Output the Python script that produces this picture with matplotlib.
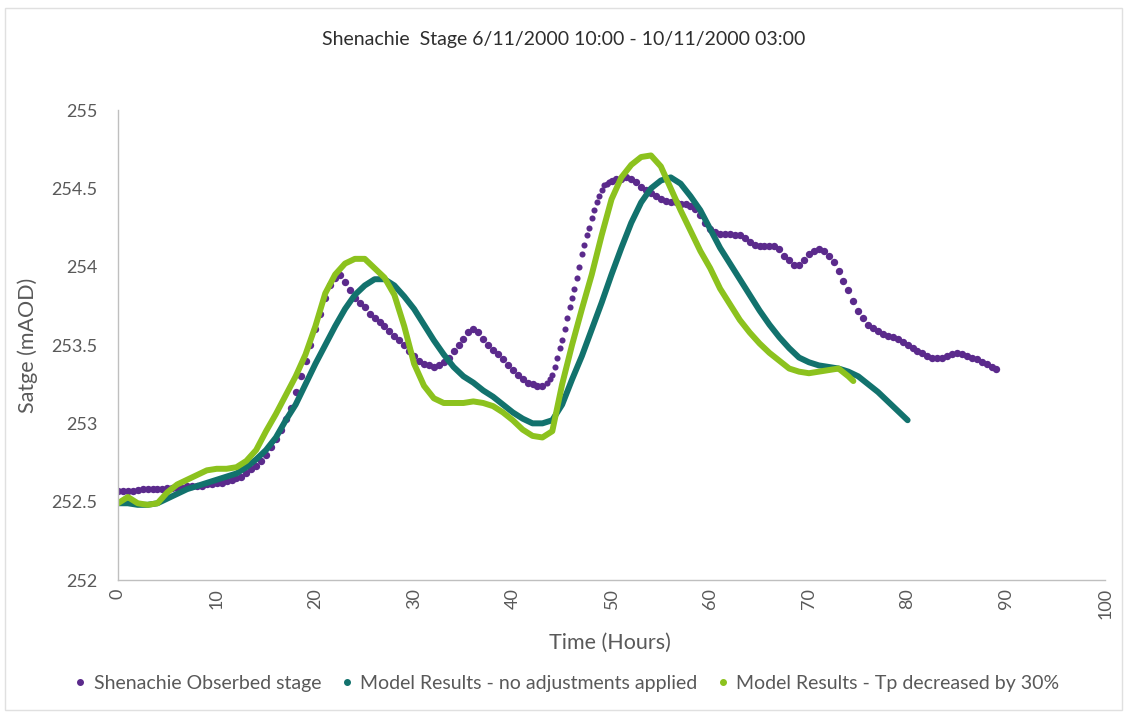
import numpy as np
import matplotlib
matplotlib.use("Agg")
import matplotlib.pyplot as plt
from matplotlib.lines import Line2D
from matplotlib.patches import Rectangle

plt.rcParams['font.family'] = ['Lato', 'DejaVu Sans']

title = "Shenachie  Stage 6/11/2000 10:00 - 10/11/2000 03:00"
xlabel = "Time (Hours)"
ylabel = "Satge (mAOD)"
labels = ["Shenachie Obserbed stage",
          "Model Results - no adjustments applied",
          "Model Results - Tp decreased by 30%"]

# Observed stage (sampling grid: 0.5 h, 0.25 h during steep rise)
obs_hours1 = np.arange(0, 43.01, 0.5)
obs_hours2 = np.arange(43.5, 49.76, 0.25)
obs_hours3 = np.arange(50, 89.01, 0.5)
obs_seg1 = [252.57, 252.57, 252.57, 252.57, 252.575, 252.58, 252.58, 252.58, 252.58, 252.58,
            252.59, 252.59, 252.59, 252.59, 252.60, 252.60, 252.60, 252.60, 252.61, 252.61,
            252.62, 252.62, 252.63, 252.64, 252.65, 252.66, 252.68, 252.71, 252.73, 252.76,
            252.80, 252.85, 252.90, 252.96, 253.03, 253.10, 253.20, 253.30, 253.40, 253.50,
            253.60, 253.70, 253.80, 253.88, 253.93, 253.95, 253.90, 253.85, 253.80, 253.77,
            253.74, 253.70, 253.67, 253.65, 253.62, 253.59, 253.56, 253.53, 253.50, 253.46,
            253.43, 253.40, 253.38, 253.37, 253.36, 253.37, 253.39, 253.42, 253.46, 253.50,
            253.54, 253.58, 253.60, 253.58, 253.54, 253.50, 253.47, 253.44, 253.41, 253.37,
            253.34, 253.31, 253.28, 253.26, 253.25, 253.24, 253.24]
obs_seg2 = [253.26, 253.28, 253.31, 253.36, 253.42, 253.48, 253.53, 253.60, 253.67, 253.74,
            253.80, 253.86, 253.93, 254.00, 254.08, 254.14, 254.20, 254.25, 254.31, 254.36,
            254.41, 254.45, 254.49, 254.52, 254.53, 254.54]
obs_seg3 = [254.55, 254.56, 254.56, 254.57, 254.56, 254.54, 254.51, 254.49, 254.47, 254.45,
            254.43, 254.42, 254.41, 254.41, 254.40, 254.40, 254.39, 254.37, 254.33, 254.28,
            254.24, 254.22, 254.21, 254.21, 254.21, 254.20, 254.20, 254.18, 254.16, 254.14,
            254.13, 254.13, 254.13, 254.13, 254.11, 254.07, 254.04, 254.01, 254.01, 254.04,
            254.08, 254.10, 254.11, 254.10, 254.07, 254.03, 253.97, 253.91, 253.85, 253.78,
            253.72, 253.67, 253.63, 253.61, 253.59, 253.57, 253.56, 253.55, 253.54, 253.52,
            253.50, 253.48, 253.46, 253.45, 253.43, 253.42, 253.42, 253.42, 253.43, 253.44,
            253.45, 253.44, 253.43, 253.42, 253.41, 253.39, 253.38, 253.36, 253.35]

# Model - no adjustments (hourly)
model_hours = np.arange(0, 81, 1)
model_stage = [252.49, 252.49, 252.48, 252.48, 252.49, 252.52, 252.55, 252.58, 252.60, 252.62,
               252.64, 252.66, 252.68, 252.72, 252.77, 252.83, 252.91, 253.02, 253.12, 253.25,
               253.38, 253.50, 253.62, 253.73, 253.82, 253.88, 253.92, 253.92, 253.88, 253.81,
               253.73, 253.63, 253.53, 253.44, 253.36, 253.30, 253.26, 253.21, 253.17, 253.12,
               253.07, 253.03, 253.00, 253.00, 253.02, 253.12, 253.28, 253.43, 253.60, 253.77,
               253.95, 254.12, 254.28, 254.41, 254.50, 254.55, 254.57, 254.53, 254.45, 254.36,
               254.24, 254.12, 254.02, 253.92, 253.82, 253.72, 253.63, 253.55, 253.48, 253.42,
               253.39, 253.37, 253.36, 253.35, 253.33, 253.30, 253.25, 253.20, 253.14, 253.08,
               253.02]

# Model - Tp decreased by 30% (hourly, ends 74.5 h)
tp_hours = list(range(0, 75)) + [74.5]
tp_stage = [252.49, 252.53, 252.49, 252.48, 252.49, 252.56, 252.61, 252.64, 252.67, 252.70,
            252.71, 252.71, 252.72, 252.76, 252.83, 252.95, 253.06, 253.18, 253.30, 253.44,
            253.62, 253.83, 253.95, 254.02, 254.05, 254.05, 253.99, 253.93, 253.82, 253.62,
            253.38, 253.24, 253.16, 253.13, 253.13, 253.13, 253.14, 253.13, 253.11, 253.07,
            253.02, 252.96, 252.92, 252.91, 252.95, 253.25, 253.50, 253.73, 253.95, 254.20,
            254.43, 254.57, 254.65, 254.70, 254.71, 254.64, 254.50, 254.36, 254.23, 254.10,
            253.99, 253.86, 253.76, 253.66, 253.58, 253.51, 253.45, 253.40, 253.35, 253.33,
            253.32, 253.33, 253.34, 253.35, 253.30, 253.27]

c_obs = '#5b2a8c'
c_mod = '#12726d'
c_tp = '#8cc21e'
txt = '#595959'

fig = plt.figure(figsize=(11.27, 7.13), dpi=100)
fig.patches.append(Rectangle((0.004, 0.004), 0.992, 0.985, transform=fig.transFigure,
                             fill=False, edgecolor='#e0e0e0', lw=1.0))
ax = fig.add_axes([0.1047, 0.1865, 0.8758, 0.6592])

ax.plot(obs_hours1, obs_seg1, 'o', color=c_obs, ms=5.3, mew=0)
ax.plot(obs_hours2, obs_seg2, 'o', color=c_obs, ms=4.4, mew=0)
ax.plot(obs_hours3, obs_seg3, 'o', color=c_obs, ms=5.3, mew=0)
ax.plot(model_hours, model_stage, '-', color=c_mod, lw=4.3, solid_capstyle='round', solid_joinstyle='round')
ax.plot(tp_hours, tp_stage, '-', color=c_tp, lw=4.3, solid_capstyle='round', solid_joinstyle='round')

ax.set_xlim(0, 100)
ax.set_ylim(252, 255)
ax.set_xticks(np.arange(0, 101, 10))
ax.set_yticks([252, 252.5, 253, 253.5, 254, 254.5, 255])
ax.set_yticklabels(['252', '252.5', '253', '253.5', '254', '254.5', '255'])
ax.tick_params(axis='both', length=0, colors=txt, labelsize=13)
ax.tick_params(axis='x', labelrotation=90, pad=6)
ax.tick_params(axis='y', pad=15)
for s in ['top', 'right']:
    ax.spines[s].set_visible(False)
for s in ['left', 'bottom']:
    ax.spines[s].set_color('#bfbfbf')
    ax.spines[s].set_linewidth(1.0)

ax.set_xlabel(xlabel, fontsize=15.5, color=txt)
ax.set_ylabel(ylabel, fontsize=15.5, color=txt)
ax.xaxis.set_label_coords(0.498, -0.113)
ax.yaxis.set_label_coords(-0.081, 0.5)
fig.text(0.5, 0.944, title, ha='center', va='center', fontsize=14, color='#2e2e2e')

handles = [Line2D([], [], ls='', marker='o', ms=4, color=c) for c in (c_obs, c_mod, c_tp)]
fig.legend(handles, labels, loc='center', bbox_to_anchor=(0.503, 0.041), ncol=3, frameon=False,
           fontsize=14, labelcolor=txt, handlelength=0.6, handletextpad=0.4, columnspacing=1.0)

fig.savefig('out.png', dpi=100)
